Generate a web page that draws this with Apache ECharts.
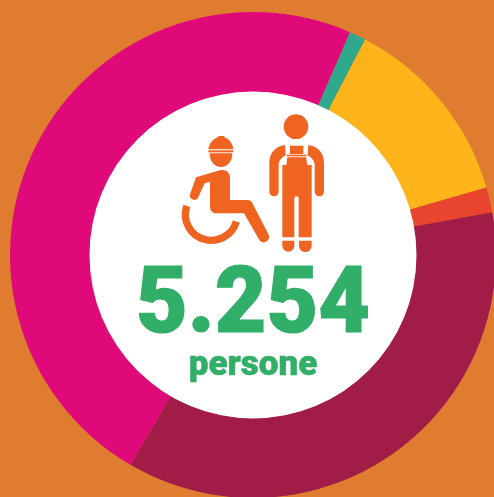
<!DOCTYPE html>
<html><head><meta charset="utf-8">
<style>html,body{margin:0;padding:0;background:#DF7C2F}#c{width:494px;height:497px}</style>
<script src="https://cdn.jsdelivr.net/npm/echarts@6/dist/echarts.min.js"></script>
</head><body><div id="c"></div>
<script>
const categories = ['Verde', 'Giallo', 'Rosso', 'Bordeaux', 'Magenta'];
const values = [58, 677, 88, 1903, 2528];
const sliceColors = ['#2FA98C', '#FCB41A', '#E9452E', '#A11C46', '#E0097A'];
const totalLabel = '5.254';
const unitLabel = 'persone';

const ORANGE = '#EF6420', GREEN = '#31AE68';
let iconCount = 0;
const p = d => {
  const name = 'iconPart' + (iconCount++);
  echarts.graphic.registerShape(name, echarts.graphic.extendPath(d, {}));
  return { type: name, z: 11, style: { fill: ORANGE } };
};

const chart = echarts.init(document.getElementById('c'), null, { renderer: 'canvas' });
chart.setOption({
  animation: false,
  backgroundColor: '#DF7C2F',
  series: [{
    type: 'pie', radius: [163, 243], center: [253, 255], startAngle: 66.5,
    clockwise: true, silent: true, label: { show: false }, labelLine: { show: false },
    itemStyle: { borderWidth: 0 },
    data: categories.map((name, i) => ({ name, value: values[i], itemStyle: { color: sliceColors[i] } }))
  }],
  graphic: { elements: [
    { type: 'circle', z: 10, shape: { cx: 253, cy: 255, r: 163.5 }, style: { fill: '#fff' } },
    { type: 'group', x: 170, y: 100, scaleX: 1/3, scaleY: 1/3, children: [
      { type: 'circle', z: 11, shape: { cx: 378, cy: 80, r: 37 }, style: { fill: ORANGE } },
      p('M345 135 C318 138 298 158 298 188 L298 275 A14 14 0 0 0 326 275 L326 195 C326 182 336 172 347 166 Z'),
      p('M415 135 C442 138 462 158 462 188 L462 275 A14 14 0 0 1 434 275 L434 195 C434 182 424 172 413 166 Z'),
      p('M360 137 L400 137 L400 162 L360 162 Z'),
      p('M350 164 L410 164 L410 169 L350 169 Z'),
      p('M352 172 L408 172 L412 195 L425 195 L425 412 L386 412 L386 295 A6.5 6.5 0 0 0 373 295 L373 412 L337 412 L337 195 L349 195 Z'),
      p('M337 422 L373 422 L373 437 A18 18 0 0 1 337 437 Z'),
      p('M387 422 L425 422 L425 437 A19 19 0 0 1 387 437 Z'),
      p('M115 148 C118 128 130 116 145 111 L145 108 L163 108 L163 112 C177 116 188 130 190 148 Z'),
      p('M115 151 L190 151 L190 157 L115 157 Z'),
      p('M119 160 L187 160 C187 185 172 201 153 201 C134 201 119 185 119 160 Z'),
      p('M78 232 L150 211 C168 207 180 218 180 234 L180 300 L232 300 C240 300 244 304 247 309 L296 404 C303 422 278 436 268 420 L222 340 L140 340 C128 340 120 332 120 320 L120 245 L104 250 L84 293 C78 306 55 298 60 283 Z'),
      { type: 'arc', z: 11, shape: { cx: 124, cy: 343, r: 78, startAngle: 16 * Math.PI / 180, endAngle: 199 * Math.PI / 180, clockwise: true },
        style: { stroke: ORANGE, lineWidth: 22, fill: null, lineCap: 'butt' } }
    ]},
    { type: 'text', z: 12, x: 253, y: 309, scaleX: 0.96, style: { text: totalLabel, fill: GREEN, stroke: GREEN, lineWidth: 1.2, align: 'center', verticalAlign: 'middle',
      fontFamily: 'Roboto', fontWeight: 900, fontSize: 93 } },
    { type: 'text', z: 12, x: 253, y: 366, style: { text: unitLabel, fill: GREEN, stroke: GREEN, lineWidth: 0.5, align: 'center', verticalAlign: 'middle',
      fontFamily: 'Roboto', fontWeight: 900, fontSize: 35 } }
  ]}
});
</script></body></html>
